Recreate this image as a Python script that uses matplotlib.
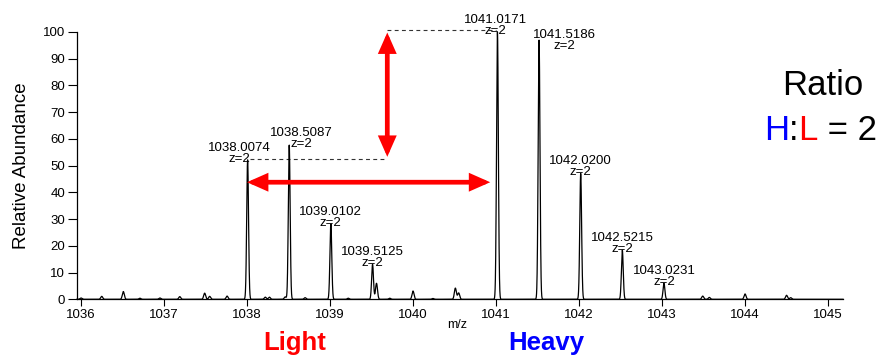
import numpy as np
import matplotlib
matplotlib.use('Agg')
import matplotlib.pyplot as plt

plt.rcParams['font.family'] = ['Liberation Sans', 'DejaVu Sans']

# labelled isotope peaks (m/z, relative abundance)
peak_mz = [1038.0074, 1038.5087, 1039.0102, 1039.5125, 1041.0171,
           1041.5186, 1042.0200, 1042.5215, 1043.0231]
peak_int = [52.2, 57.7, 28.2, 13.1, 100.0, 97.0, 47.1, 18.4, 6.0]
peak_z = [2, 2, 2, 2, 2, 2, 2, 2, 2]

# small unlabelled peaks / noise
noise_mz = [1036.00, 1036.25, 1036.51, 1036.71, 1036.95, 1037.19, 1037.49,
            1037.55, 1037.76, 1038.22, 1038.27, 1038.46, 1038.70, 1039.22,
            1039.56, 1039.72, 1040.00, 1040.24, 1040.51, 1040.55, 1043.49,
            1043.57, 1044.00, 1044.50, 1044.55]
noise_int = [0.5, 1.1, 2.9, 0.4, 0.5, 1.0, 2.3, 1.1, 1.2, 0.8, 0.8, 0.9,
             0.6, 0.4, 6.0, 0.4, 3.1, 0.3, 4.2, 2.4, 1.2, 0.7, 2.0, 1.5, 0.6]

ratio_text = 'Ratio'
ratio_parts = ['H', ':', 'L', ' = 2']
ratio_colors = ['blue', 'black', 'red', 'black']
light_label = 'Light'
heavy_label = 'Heavy'

# label offsets in pixels for a few crowded peaks
label_shift = {1038.0074: (-8, 0), 1038.5087: (12, 0), 1041.0171: (-2, 0),
               1041.5186: (25, -7)}

fig = plt.figure(figsize=(8.87, 3.58), dpi=100)
ax = fig.add_axes([77/887, 1-299.3/358, (843-77)/887, 267.3/358])

mz = np.arange(1035.95, 1045.18, 0.001)
inten = np.zeros_like(mz)
for m, h in zip(peak_mz, peak_int):
    inten += h*np.exp(-0.5*((mz-m)/0.011)**2)
for m, h in zip(noise_mz, noise_int):
    inten += h*np.exp(-0.5*((mz-m)/0.012)**2)

ax.plot(mz, inten, color='black', lw=0.9, clip_on=False, zorder=3)

px = 0.72
for m, h, z in zip(peak_mz, peak_int, peak_z):
    dx, dy = label_shift.get(m, (0, 0))
    ax.annotate('%.4f' % m, xy=(m, h), xytext=(dx*px, (9+dy)*px),
                textcoords='offset points', ha='center', va='baseline',
                fontsize=9.5, annotation_clip=False, zorder=5)
    ax.annotate('z=%d' % z, xy=(m, h), xytext=(dx*px, (-2+dy)*px),
                textcoords='offset points', ha='center', va='baseline',
                fontsize=9.5, annotation_clip=False, zorder=5)

# dashed guide lines
ax.plot([1038.04, 1039.69], [52.4, 52.4], color='#333333', lw=0.8,
        dashes=(3.5, 3), clip_on=False)
ax.plot([1039.69, 1041.0], [100.7, 100.7], color='#333333', lw=0.8,
        dashes=(3.5, 3), clip_on=False)

# red arrows
arrow = dict(arrowstyle='<|-|>,head_length=0.95,head_width=0.42',
             color='red', lw=3.4, shrinkA=0, shrinkB=0, joinstyle='miter')
ax.annotate('', xy=(1039.69, 53.3), xytext=(1039.69, 99.8),
            arrowprops=arrow, annotation_clip=False)
ax.annotate('', xy=(1038.0, 43.8), xytext=(1040.93, 43.8),
            arrowprops=arrow, annotation_clip=False)

ax.set_xlim(1035.952, 1045.18)
ax.set_ylim(0, 100)
ax.set_xticks(range(1036, 1046))
ax.set_yticks(range(0, 101, 10))
ax.tick_params(direction='out', width=0.8, labelsize=9.5, pad=2)
ax.tick_params(axis='y', length=6.5)
ax.tick_params(axis='x', length=5)
for s in ['top', 'right']:
    ax.spines[s].set_visible(False)
for s in ['left', 'bottom']:
    ax.spines[s].set_linewidth(0.9)
ax.set_ylabel('Relative Abundance', fontsize=13.5, labelpad=9)
fig.text(457/887, 1-325/358, 'm/z', fontsize=9, ha='center', va='center')

fig.text(295/887, 1-343/358, light_label, color='red', fontsize=18.5,
         fontweight='bold', ha='center', va='center')
fig.text(546/887, 1-343/358, heavy_label, color='blue', fontsize=18.5,
         fontweight='bold', ha='center', va='center')

fig.text(823/887, 1-95/358, ratio_text, fontsize=25, ha='center',
         va='baseline')
# coloured H:L = 2, each piece placed right after the previous one
t = fig.text(764/887, 1-140/358, ratio_parts[0], color=ratio_colors[0],
             fontsize=25, va='baseline')
for part, col in zip(ratio_parts[1:], ratio_colors[1:]):
    t = ax.annotate(part, xy=(1, 0), xycoords=t, ha='left', va='bottom',
                    fontsize=25, color=col, annotation_clip=False)

fig.savefig('out.png', dpi=100)
